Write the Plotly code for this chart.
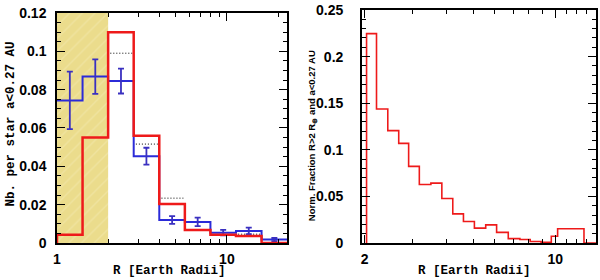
import plotly.graph_objects as go
import math

# ---------------- data ----------------
# Left panel: radius bins (Earth radii), sqrt(2) spaced
left_edges = [1.0, 1.414, 2.0, 2.828, 4.0, 5.657, 8.0, 11.31, 16.0, 22.63]
red_vals = [0.0043, 0.055, 0.110, 0.056, 0.0204, 0.0068, 0.0043, 0.0037, 0.0]
blue_vals = [0.0744, 0.0868, 0.0845, 0.0453, 0.0120, 0.0110, 0.0054, 0.0063, 0.0018]
blue_err = [0.0150, 0.0090, 0.0065, 0.0044, 0.0020, 0.0022, 0.0014, 0.0017, 0.0008]
blue_centers = [1.19, 1.68, 2.38, 3.36, 4.76, 6.73, 9.51, 13.45, 19.03]
dotted_bins = [2, 3, 4, 7]
dotted_vals = [0.0990, 0.0516, 0.0234, 0.0046]
shade_x = [1.0, 2.0]
left_ymax = 0.12

# Right panel: normalized fraction
right_edges = [2.034, 2.212, 2.433, 2.668, 2.901, 3.175, 3.500, 3.839, 4.210, 4.607,
               5.053, 5.559, 6.095, 6.725, 7.418, 8.091, 8.87, 9.67, 10.20, 11.71, 12.74]
right_vals = [0.2247, 0.1438, 0.1206, 0.1069, 0.0822, 0.0628, 0.0642, 0.0477, 0.0312, 0.0230,
              0.0160, 0.0195, 0.0114, 0.0047, 0.0037, 0.0016, 0.0008, 0.0072, 0.0153, 0.0153]

left_xrange = [1.0, 22.63]
right_xrange = [1.955, 14.1]

# ---------------- styling ----------------
RED = "#EE1A1A"
BLUE = "#2B2BD8"
EBLUE = "#3A30C0"
SHADE = "#EBDC8C"
TICKFONT = dict(family="Liberation Sans", size=14, color="black", weight="bold")
TITLEFONT = dict(family="Liberation Mono", size=12.5, color="black", weight="bold")

fig = go.Figure()

# yellow shaded region
fig.add_trace(go.Scatter(
    x=[shade_x[0], shade_x[1], shade_x[1], shade_x[0], shade_x[0]],
    y=[0, 0, left_ymax, left_ymax, 0],
    fill="toself", fillcolor=SHADE, mode="lines", line=dict(width=0),
    fillpattern=dict(shape="/", fgcolor="#F3EAB4", bgcolor=SHADE, size=9, solidity=0.15),
    xaxis="x", yaxis="y", hoverinfo="skip", showlegend=False))

# dotted segments
dx, dy = [], []
for b, v in zip(dotted_bins, dotted_vals):
    dx += [left_edges[b] * 1.03, left_edges[b + 1] * 0.98, None]
    dy += [v, v, None]
fig.add_trace(go.Scatter(x=dx, y=dy, mode="lines",
                         line=dict(color="black", width=1, dash="1px,2px"),
                         xaxis="x", yaxis="y", showlegend=False))

# blue histogram
fig.add_trace(go.Scatter(x=left_edges, y=blue_vals + [blue_vals[-1]], mode="lines",
                         line=dict(color=BLUE, width=2, shape="hv"),
                         xaxis="x", yaxis="y", showlegend=False))
# blue error bars
fig.add_trace(go.Scatter(x=blue_centers, y=blue_vals, mode="markers",
                         marker=dict(size=1, color=EBLUE, opacity=0),
                         error_y=dict(type="data", array=blue_err, color=EBLUE,
                                      thickness=1.8, width=3),
                         xaxis="x", yaxis="y", showlegend=False))
# red histogram
fig.add_trace(go.Scatter(x=[left_edges[0]] + left_edges, y=[0] + red_vals + [red_vals[-1]],
                         mode="lines", line=dict(color=RED, width=2.5, shape="hv"),
                         xaxis="x", yaxis="y", showlegend=False))

# right histogram
fig.add_trace(go.Scatter(x=[right_edges[0]] + right_edges + [right_xrange[1]],
                         y=[0] + right_vals + [0, 0],
                         mode="lines", line=dict(color=RED, width=1.6, shape="hv"),
                         xaxis="x2", yaxis="y2", showlegend=False))

W, H = 600, 280
ml, mr, mt, mb = 57, 2, 7, 36.5
pw = W - ml - mr
ph = H - mt - mb

def xd(px):
    return (px - ml) / pw

def yd(py):
    return (H - mb - py) / ph

common = dict(showgrid=False, zeroline=False, showline=True, linecolor="black", linewidth=1.5,
              mirror="ticks", ticks="inside", tickcolor="black", tickwidth=1.3, ticklen=8,
              tickfont=TICKFONT)

fig.update_layout(
    width=W, height=H, margin=dict(l=ml, r=mr, t=mt, b=mb),
    paper_bgcolor="white", plot_bgcolor="white",
    xaxis=dict(type="log", range=[math.log10(left_xrange[0]), math.log10(left_xrange[1])],
               domain=[0, xd(288)], tickvals=[1, 10], ticktext=["1", "10"],
               minor=dict(ticks="inside", ticklen=4, tickcolor="black", tickwidth=1.2,
                          tickvals=[2, 3, 4, 5, 6, 7, 8, 9, 20]),
               anchor="y", ticklabelstandoff=2, **common),
    yaxis=dict(range=[0, left_ymax], domain=[0, yd(10)],
               tickvals=[0, 0.02, 0.04, 0.06, 0.08, 0.1, 0.12],
               ticktext=["0", "0.02", "0.04", "0.06", "0.08", "0.1", "0.12"],
               minor=dict(ticks="inside", ticklen=4, tickcolor="black", tickwidth=1.2, dtick=0.005),
               anchor="x", ticklabelstandoff=6, **common),
    xaxis2=dict(type="log", range=[math.log10(right_xrange[0]), math.log10(right_xrange[1])],
                domain=[xd(363), 1], tickvals=[2, 10], ticktext=["2", "10"],
                minor=dict(ticks="inside", ticklen=4, tickcolor="black", tickwidth=1.2,
                           tickvals=[3, 4, 5, 6, 7, 8, 9, 11, 12, 13, 14]),
                anchor="y2", ticklabelstandoff=2, **common),
    yaxis2=dict(range=[0, 0.25], domain=[0, 1],
                tickvals=[0, 0.05, 0.1, 0.15, 0.2, 0.25],
                ticktext=["0", "0.05", "0.1", "0.15", "0.2", "0.25"],
                minor=dict(ticks="inside", ticklen=4, tickcolor="black", tickwidth=1.2, dtick=0.01),
                anchor="x2", ticklabelstandoff=14, **common),
)

fig.add_annotation(text="R [Earth Radii]", xref="paper", yref="paper",
                   x=xd(170), y=yd(271.5), showarrow=False, font=TITLEFONT,
                   xanchor="center", yanchor="middle")
fig.add_annotation(text="R [Earth Radii]", xref="paper", yref="paper",
                   x=xd(476), y=yd(271.5), showarrow=False, font=TITLEFONT,
                   xanchor="center", yanchor="middle")
fig.add_annotation(text="Nb. per star a<0.27 AU", xref="paper", yref="paper",
                   x=xd(11), y=yd(123), showarrow=False, font=TITLEFONT, textangle=-90,
                   xanchor="center", yanchor="middle")
fig.add_annotation(text="Norm. Fraction R>2 R<sub>⊕</sub> and a<0.27 AU", xref="paper", yref="paper",
                   x=xd(313), y=yd(135), showarrow=False, textangle=-90,
                   font=dict(family="Liberation Sans", size=9.5, color="black", weight="bold"),
                   xanchor="center", yanchor="middle")

fig.write_html("out.html", config={"displayModeBar": False},
               post_script="document.body.style.margin='0px';document.body.style.overflow='hidden';")
